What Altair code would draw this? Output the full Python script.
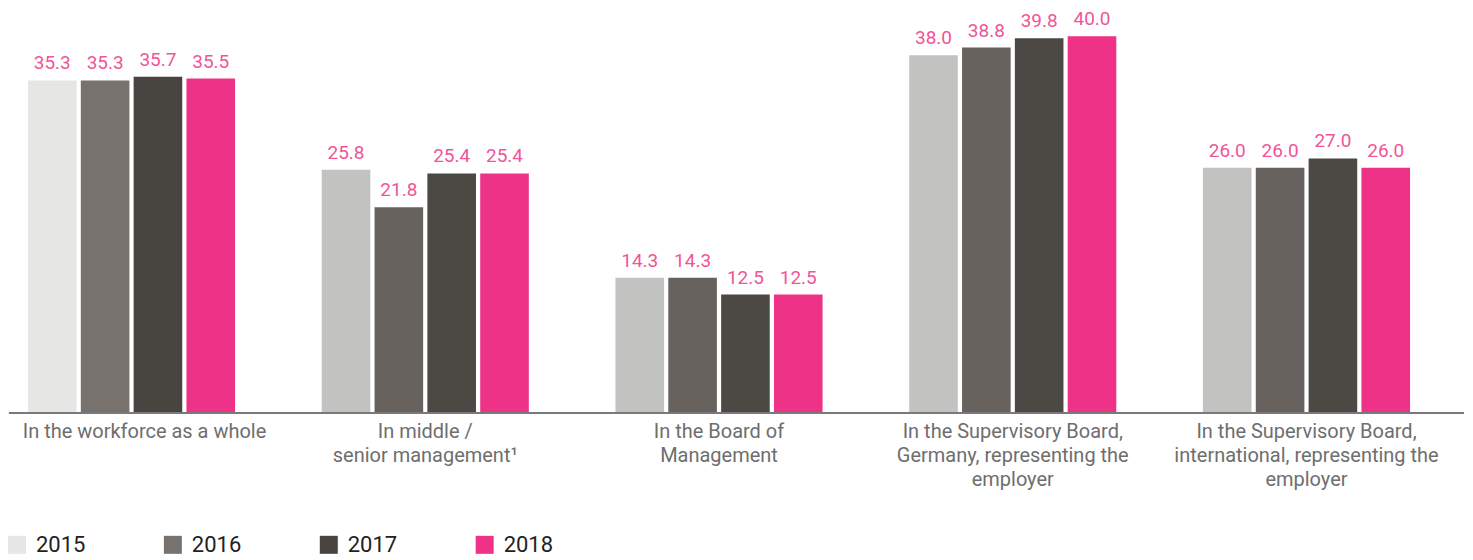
import altair as alt
import pandas as pd

categories = [
    "In the workforce as a whole",
    "In middle /\nsenior management¹",
    "In the Board of\nManagement",
    "In the Supervisory Board,\nGermany, representing the\nemployer",
    "In the Supervisory Board,\ninternational, representing the\nemployer",
]
years = ["2015", "2016", "2017", "2018"]
v2015 = [35.3, 25.8, 14.3, 38.0, 26.0]
v2016 = [35.3, 21.8, 14.3, 38.8, 26.0]
v2017 = [35.7, 25.4, 12.5, 39.8, 27.0]
v2018 = [35.5, 25.4, 12.5, 40.0, 26.0]

series = {"2015": v2015, "2016": v2016, "2017": v2017, "2018": v2018}
rows = []
for y in years:
    for i, c in enumerate(categories):
        rows.append({"cat": c, "year": y, "value": series[y][i],
                     "key": y if i == 0 else y + "b"})
df = pd.DataFrame(rows)

keys = ["2015", "2016", "2017", "2018", "2015b", "2016b", "2017b", "2018b"]
colors = ["#e6e6e4", "#77726e", "#48443f", "#ed3287",
          "#c2c2c0", "#67625e", "#4c4844", "#ed3287"]

x = alt.X("cat:N", sort=categories, title=None,
          scale=alt.Scale(paddingInner=0.295, paddingOuter=0.034),
          axis=alt.Axis(domain=False, ticks=False, labelAngle=0,
                        labelExpr="split(datum.label, '\\n')",
                        labelAlign="center", labelBaseline="top",
                        labelPadding=10, labelLineHeight=24,
                        labelFontSize=20, labelFont="Roboto",
                        labelColor="#6e6e6e", labelLimit=400,
                        labelOffset={"condition": {"test": "datum.index === 0", "value": 13}, "value": 0}))
xo = alt.XOffset("year:N", sort=years, scale=alt.Scale(paddingInner=0.08, paddingOuter=0))
y = alt.Y("value:Q", scale=alt.Scale(domain=[0, 43.0], nice=False), axis=None)

base = alt.Chart(df)

bars = base.mark_bar().encode(
    x=x, xOffset=xo, y=y,
    color=alt.Color("key:N", scale=alt.Scale(domain=keys, range=colors),
                    legend=alt.Legend(values=years, title=None, orient="none",
                                      legendX=-12, legendY=526, direction="horizontal",
                                      columns=4, columnPadding=76,
                                      symbolType="square", symbolSize=324,
                                      symbolStrokeWidth=0, symbolOpacity=1,
                                      labelFontSize=22, labelFont="Roboto",
                                      labelColor="#222222", labelOffset=8,
                                      padding=0)),
)

labels = base.mark_text(baseline="alphabetic", dy=-11, fontSize=19,
                        font="Roboto", color="#ef5597").encode(
    x=x, xOffset=xo, y=y, text=alt.Text("value:Q", format=".1f"))

axis_line = base.mark_rule(color="#7a7a7a", strokeWidth=2).encode(
    x=alt.value(-9), x2=alt.value(1447), y=alt.value(405))

chart = alt.layer(bars, labels, axis_line).properties(
    width=1403, height=404,
    autosize=alt.AutoSizeParams(type="none"),
    padding={"left": 10, "top": 0, "right": 45, "bottom": 146},
).configure_view(stroke=None)

chart.save("out.html", embed_options={"renderer": "svg", "actions": False})
